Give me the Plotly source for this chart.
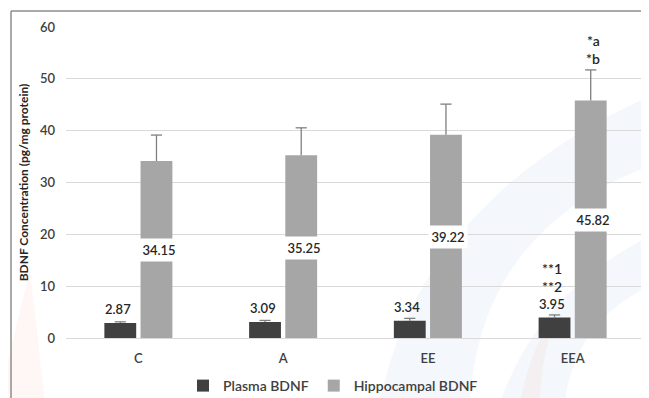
import plotly.graph_objects as go

categories = ["C", "A", "EE", "EEA"]
plasma = [2.87, 3.09, 3.34, 3.95]
plasma_err = [0.25, 0.3, 0.45, 0.5]
hippo = [34.15, 35.25, 39.22, 45.82]
hippo_err = [5.0, 5.3, 5.9, 5.9]
plasma_marks = [[], [], [], ["**1", "**2"]]
hippo_marks = [[], [], [], ["*a", "*b"]]
y_ticks = [0, 10, 20, 30, 40, 50, 60]

# the page body has an 8px margin, so the figure is offset by 8px
OFF = 8
W, H = 649 - OFF, 398 - OFF
ML, MR, MT, MB = 66 - OFF, 4, 27 - OFF, 60
FONT = "Lato"
TXT = "#262626"

fig = go.Figure()
fig.add_trace(go.Bar(
    name="Plasma BDNF", x=categories, y=plasma, offsetgroup="p",
    marker=dict(color="#404040", line=dict(width=0)),
))
fig.add_trace(go.Bar(
    name="Hippocampal BDNF", x=categories, y=hippo, offsetgroup="h",
    marker=dict(color="#a6a6a6", line=dict(width=0)),
))
for vals, errs, grp in [(plasma, plasma_err, "p"), (hippo, hippo_err, "h")]:
    fig.add_trace(go.Scatter(
        x=categories, y=[v + e for v, e in zip(vals, errs)], offsetgroup=grp,
        mode="markers", showlegend=False, hoverinfo="skip",
        marker=dict(symbol="line-ew", size=8, color="#7f7f7f",
                    line=dict(color="#7f7f7f", width=1.3)),
        error_y=dict(type="data", symmetric=False, array=[0] * len(errs),
                     arrayminus=errs, color="#7f7f7f", thickness=1.3, width=0),
    ))

annotations = []
lab_font = dict(family=FONT, size=13, color=TXT, weight=600)
star_font = dict(family=FONT, size=14, color=TXT, weight=600)
for i, c in enumerate(categories):
    annotations.append(dict(
        x=i, y=plasma[i], xref="x", yref="y", text=f"{plasma[i]:.2f}",
        showarrow=False, xshift=-20.5, yanchor="bottom", yshift=4, font=lab_font))
    for k, m in enumerate(plasma_marks[i]):
        annotations.append(dict(
            x=i, y=plasma[i], xref="x", yref="y", text=m,
            showarrow=False, xshift=-20.5, yanchor="bottom",
            yshift=3 + 18 * (len(plasma_marks[i]) - k), font=star_font))
    annotations.append(dict(
        x=i, y=hippo[i] / 2, xref="x", yref="y", text=f"{hippo[i]:.2f}",
        showarrow=False, xshift=20.5, yshift=-1, bgcolor="white",
        width=36, height=20, font=lab_font))
    for k, m in enumerate(hippo_marks[i]):
        annotations.append(dict(
            x=i, y=hippo[i] + hippo_err[i], xref="x", yref="y", text=m,
            showarrow=False, xshift=20.5, yanchor="bottom",
            yshift=1 + 18 * (len(hippo_marks[i]) - 1 - k), font=star_font))

pw = W - ML - MR
ph = H - MT - MB
def px_x(p):  # window pixel -> paper
    return (p - OFF - ML) / pw
def px_y(p):
    return (H - MB - (p - OFF)) / ph
def P(x, y):
    return f"{px_x(x):.4f},{px_y(y):.4f}"

# faint background watermark
wm = [
    (f"M{P(380,402)} Q{P(420,200)} {P(652,95)} L{P(652,165)} Q{P(480,230)} {P(470,402)} Z",
     "rgba(205,218,242,0.22)"),
    (f"M{P(500,402)} Q{P(540,290)} {P(652,235)} L{P(652,285)} Q{P(575,320)} {P(565,402)} Z",
     "rgba(205,218,242,0.22)"),
    (f"M{P(-2,402)} L{P(30,270)} L{P(45,402)} Z", "rgba(250,205,195,0.16)"),
    (f"M{P(520,402)} Q{P(528,360)} {P(545,330)} L{P(550,335)} Q{P(540,370)} {P(540,402)} Z",
     "rgba(250,205,185,0.16)"),
]
shapes = [dict(type="path", xref="paper", yref="paper", path=p, fillcolor=c,
               line=dict(width=0), layer="below") for p, c in wm]
shapes += [
    dict(type="line", xref="paper", yref="paper", x0=px_x(11), x1=px_x(11),
         y0=px_y(11), y1=px_y(402), line=dict(color="#8c8c8c", width=1.5)),
    dict(type="line", xref="paper", yref="paper", x0=px_x(11), x1=px_x(652),
         y0=px_y(11), y1=px_y(11), line=dict(color="#8c8c8c", width=1.5)),
]

fig.update_layout(
    width=W, height=H,
    margin=dict(l=ML, r=MR, t=MT, b=MB, autoexpand=False),
    paper_bgcolor="white", plot_bgcolor="rgba(0,0,0,0)",
    barmode="group", bargap=0.5, bargroupgap=0.12,
    scattermode="group", scattergap=0.5,
    font=dict(family=FONT, color="#595959"),
    showlegend=True,
    legend=dict(orientation="h", x=px_x(333), xanchor="center",
                y=px_y(386), yanchor="middle", bgcolor="rgba(0,0,0,0)",
                font=dict(family=FONT, size=14, color="#404040", weight=600),
                itemwidth=30, traceorder="normal"),
    annotations=annotations,
    shapes=shapes,
    xaxis=dict(showgrid=False, showline=True, linecolor="#d9d9d9", linewidth=1,
               tickfont=dict(family=FONT, size=13, color="#404040", weight=600),
               ticks="", ticklabelstandoff=8),
    yaxis=dict(range=[0, 60], tickvals=y_ticks, showgrid=True, gridcolor="#d9d9d9",
               gridwidth=1, zeroline=True, zerolinecolor="#d9d9d9", zerolinewidth=1,
               tickfont=dict(family=FONT, size=13, color="#404040", weight=600),
               ticks="", ticklabelstandoff=10,
               title=dict(text="BDNF Concentration (pg/mg protein)",
                          font=dict(family=FONT, size=12, color=TXT, weight="bold"),
                          standoff=8)),
)

fig.write_html("out.html")
